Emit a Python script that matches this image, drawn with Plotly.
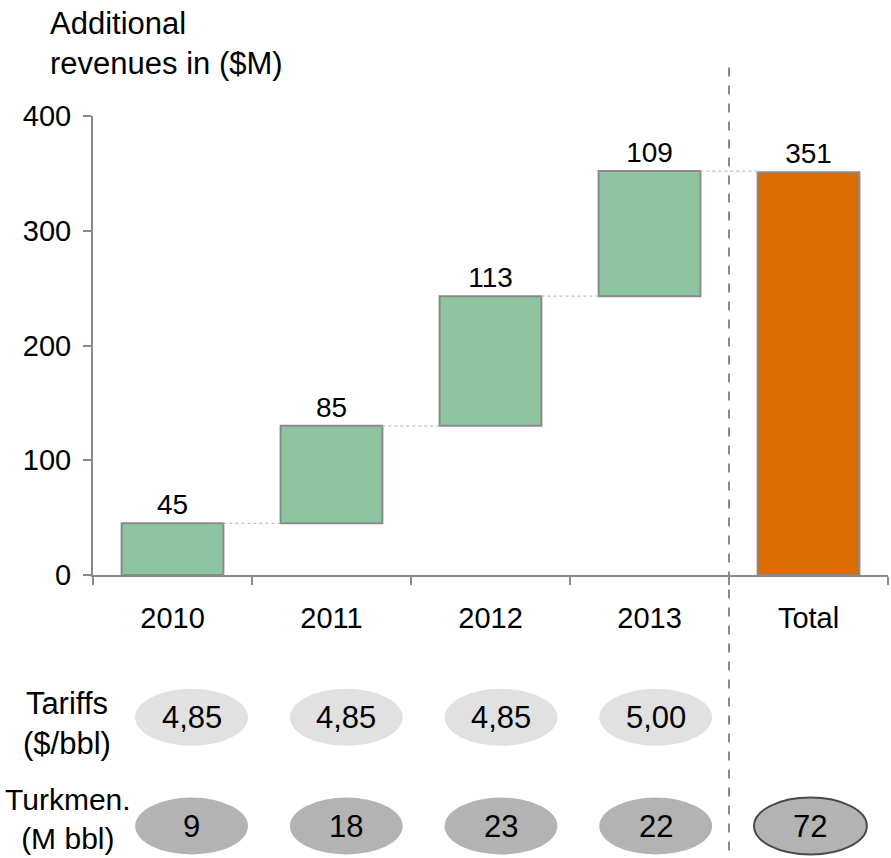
import plotly.graph_objects as go

categories = ["2010", "2011", "2012", "2013", "Total"]
increments = [45, 85, 113, 109]
total_value = 351
tariffs = ["4,85", "4,85", "4,85", "5,00", None]
volumes = ["9", "18", "23", "22", "72"]
y_ticks = [0, 100, 200, 300, 400]

FONT = "Liberation Sans, Arial, sans-serif"
GREEN = "#8fc4a0"
ORANGE = "#db6c00"
EDGE = "#8a8a8a"

# cumulative bases
bases = []
run = 0
for v in increments:
    bases.append(run)
    run += v
tops = [b + v for b, v in zip(bases, increments)]

bar_x = categories
bar_y = increments + [total_value]
bar_base = bases + [0]
bar_colors = [GREEN] * len(increments) + [ORANGE]
bar_text = [str(v) for v in bar_y]

fig = go.Figure()
fig.add_trace(go.Bar(
    x=bar_x, y=bar_y, base=bar_base,
    marker=dict(color=bar_colors, line=dict(color=EDGE, width=2)),
    width=0.64,
    text=bar_text, textposition="outside",
    textfont=dict(family=FONT, size=28, color="black"),
    cliponaxis=False, hoverinfo="skip",
))

shapes = []
# connectors
for i, lvl in enumerate(tops):
    shapes.append(dict(type="line", xref="x", yref="y",
                       x0=i + 0.32, x1=i + 1 - 0.32, y0=lvl, y1=lvl,
                       line=dict(color="#c0c0c0", width=1.2, dash="dot")))
# vertical dashed separator between 2013 and Total
shapes.append(dict(type="line", xref="x", yref="paper",
                   x0=len(increments) - 0.5, x1=len(increments) - 0.5,
                   y0=-0.6, y1=1.118,
                   line=dict(color="#8a8a8a", width=2, dash="dash")))

annotations = []
row_tariff_y = -0.31
row_vol_y = -0.547
ew = 0.355
eh_paper = 0.062
VAL_SIZE = 31
for i, cat in enumerate(categories):
    cx = i + 0.12 - 0.027 * i
    if tariffs[i] is not None:
        shapes.append(dict(type="circle", xref="x", yref="paper",
                           x0=cx - ew, x1=cx + ew,
                           y0=row_tariff_y - eh_paper, y1=row_tariff_y + eh_paper,
                           fillcolor="#e1e1e1", line=dict(width=0), layer="below"))
        annotations.append(dict(x=cx, y=row_tariff_y, xref="x", yref="paper",
                                text=tariffs[i], showarrow=False,
                                xanchor="center", yanchor="middle",
                                font=dict(family=FONT, size=VAL_SIZE, color="black")))
    is_total = cat == "Total"
    shapes.append(dict(type="circle", xref="x", yref="paper",
                       x0=cx - ew, x1=cx + ew,
                       y0=row_vol_y - eh_paper, y1=row_vol_y + eh_paper,
                       fillcolor="#b3b3b3",
                       line=dict(width=2 if is_total else 0, color="#4a4a4a"),
                       layer="below"))
    annotations.append(dict(x=cx, y=row_vol_y, xref="x", yref="paper",
                            text=volumes[i], showarrow=False,
                            xanchor="center", yanchor="middle",
                            font=dict(family=FONT, size=VAL_SIZE, color="black")))

annotations.append(dict(x=-0.033, y=-0.323, xref="paper", yref="paper",
                        text="Tariffs<br>($/bbl)", showarrow=False, align="center",
                        xanchor="center", yanchor="middle",
                        font=dict(family=FONT, size=31, color="black")))
annotations.append(dict(x=-0.032, y=-0.531, xref="paper", yref="paper",
                        text="Turkmen.<br>(M bbl)", showarrow=False, align="center",
                        xanchor="center", yanchor="middle",
                        font=dict(family=FONT, size=30, color="black")))
annotations.append(dict(x=-0.057, y=1.158, xref="paper", yref="paper",
                        text="Additional<br>revenues in ($M)", showarrow=False,
                        align="left", xanchor="left", yanchor="middle",
                        font=dict(family=FONT, size=31, color="black")))

fig.update_layout(
    width=891, height=858,
    margin=dict(l=93, r=3, t=116, b=283),
    paper_bgcolor="white", plot_bgcolor="white",
    showlegend=False,
    shapes=shapes, annotations=annotations,
    font=dict(family=FONT, size=29, color="black"),
)
fig.update_xaxes(
    type="category", range=[-0.5, 4.5],
    showline=True, linecolor=EDGE, linewidth=2,
    ticks="outside", tickson="boundaries", ticklen=8, tickcolor=EDGE, tickwidth=2,
    ticklabelstandoff=16,
    showgrid=False, zeroline=False,
    tickfont=dict(family=FONT, size=29, color="black"),
)
fig.update_yaxes(
    range=[0, 400], tickvals=y_ticks,
    showline=True, linecolor=EDGE, linewidth=2,
    ticks="outside", ticklen=8, tickcolor=EDGE, tickwidth=2,
    ticklabelstandoff=6,
    showgrid=False, zeroline=False,
    tickfont=dict(family=FONT, size=29, color="black"),
)

fig.write_html("out.html")
